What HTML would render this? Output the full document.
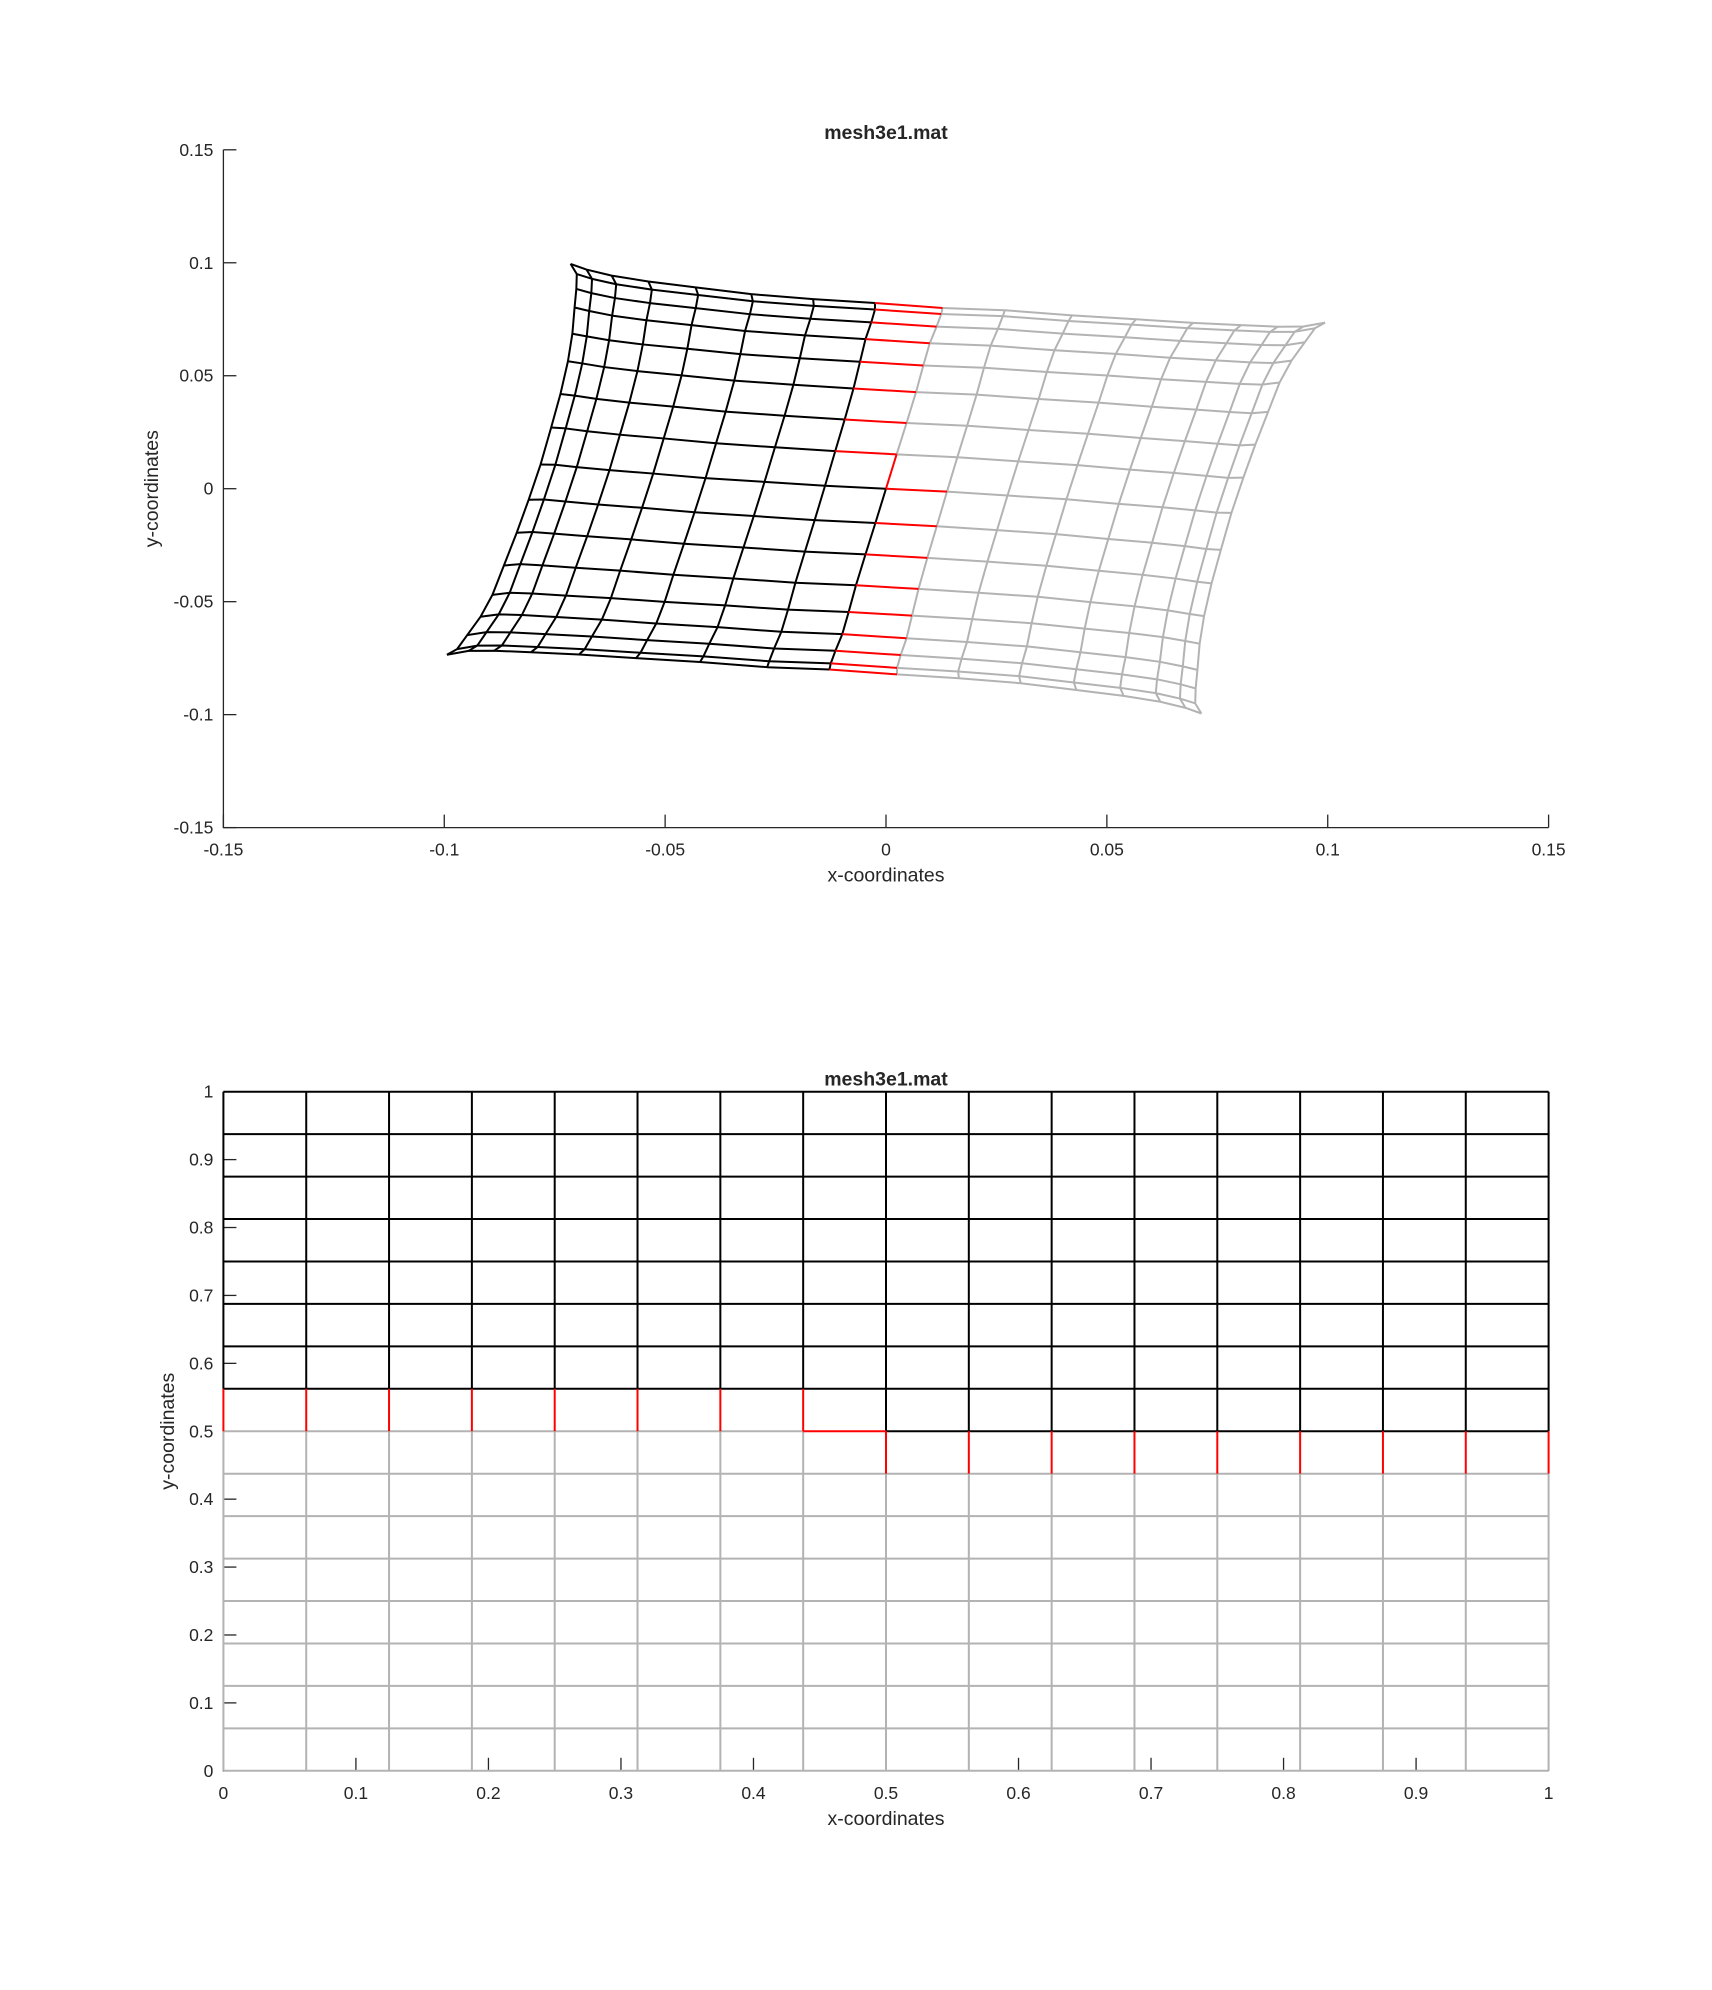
<!DOCTYPE html>
<html><head><meta charset="utf-8"><style>
html,body{margin:0;padding:0;background:#fff;}
svg{display:block;}
text{font-family:"Liberation Sans",Arial,sans-serif;fill:#262626;}
</style></head><body>
<svg id="fig" width="1712" height="1990" viewBox="0 0 1712 1990" xmlns="http://www.w3.org/2000/svg">
<rect x="0" y="0" width="1712" height="1990" fill="#fff"/>
<g id="p1"></g>
<g id="p2"></g>
</svg>
<script>
// ---- data ----
// boundary nodes of deformed mesh (data coords), index 0..16
const topX = [0.0994,0.0945,0.0887,0.0804,0.0695,0.0566,0.0421,0.0269,0.0128,-0.0025,-0.0165,-0.0305,-0.0431,-0.0538,-0.0621,-0.0678,-0.0714];
const topY = [0.0735,0.0718,0.0717,0.0724,0.0734,0.0750,0.0767,0.0790,0.0800,0.0822,0.0839,0.0861,0.0891,0.0917,0.0943,0.0970,0.0995];
const botX = [0.0714,0.0678,0.0621,0.0538,0.0431,0.0305,0.0165,0.0025,-0.0128,-0.0269,-0.0421,-0.0566,-0.0695,-0.0804,-0.0887,-0.0945,-0.0994];
const botY = [-0.0995,-0.0970,-0.0943,-0.0917,-0.0891,-0.0861,-0.0839,-0.0822,-0.0800,-0.0790,-0.0767,-0.0750,-0.0734,-0.0724,-0.0717,-0.0718,-0.0735];
const leftX = [-0.0714,-0.0700,-0.0701,-0.0705,-0.0710,-0.0720,-0.0737,-0.0758,-0.0782,-0.0809,-0.0836,-0.0865,-0.0891,-0.0918,-0.0948,-0.0971,-0.0994];
const leftY = [0.0995,0.0950,0.0884,0.0802,0.0686,0.0564,0.0419,0.0271,0.0107,-0.0049,-0.0195,-0.0340,-0.0470,-0.0567,-0.0648,-0.0710,-0.0735];
const rightX = [0.0994,0.0971,0.0948,0.0918,0.0891,0.0865,0.0836,0.0809,0.0782,0.0758,0.0737,0.0720,0.0710,0.0705,0.0701,0.0700,0.0714];
const rightY = [0.0735,0.0710,0.0648,0.0567,0.0470,0.0340,0.0195,0.0049,-0.0107,-0.0271,-0.0419,-0.0564,-0.0686,-0.0802,-0.0884,-0.0950,-0.0995];
// reference mesh node coordinates
const nodeS = [0,0.0625,0.125,0.1875,0.25,0.3125,0.375,0.4375,0.5,0.5625,0.625,0.6875,0.75,0.8125,0.875,0.9375,1];
const nodeT = [0,0.0625,0.125,0.1875,0.25,0.3125,0.375,0.4375,0.5,0.5625,0.625,0.6875,0.75,0.8125,0.875,0.9375,1];
// mesh topology: gray top index and black bottom index per column
const grayTop = [8,8,8,8,8,8,8,8,7,7,7,7,7,7,7,7,7];
const blackBot = [9,9,9,9,9,9,9,9,8,8,8,8,8,8,8,8,8];
// tick labels
const p1Ticks = [-0.15,-0.1,-0.05,0,0.05,0.1,0.15];
const p1TickLabels = ["-0.15","-0.1","-0.05","0","0.05","0.1","0.15"];
const p2Ticks = [0,0.1,0.2,0.3,0.4,0.5,0.6,0.7,0.8,0.9,1];
const p2TickLabels = ["0","0.1","0.2","0.3","0.4","0.5","0.6","0.7","0.8","0.9","1"];

const NS="http://www.w3.org/2000/svg";
function mk(parent,tag,attrs){const e=document.createElementNS(NS,tag);for(const k in attrs)e.setAttribute(k,attrs[k]);parent.appendChild(e);return e;}

const N=16;
function coons(i,j){
  const s=i/N,t=j/N;
  const f=(T,B,L,R)=>(1-t)*R[i]+t*L[i]+(1-s)*T[j]+s*B[j]
    -((1-s)*(1-t)*T[0]+(1-s)*t*T[N]+s*(1-t)*B[0]+s*t*B[N]);
  return [f(topX,botX,leftX,rightX), f(topY,botY,leftY,rightY)];
}

function drawPlot(g, box, xdom, ydom, ticks, labels, nodeFn, opts){
  const sx=v=>box.l+(v-xdom[0])/(xdom[1]-xdom[0])*(box.r-box.l);
  const sy=v=>box.b-(v-ydom[0])/(ydom[1]-ydom[0])*(box.b-box.t);
  const ax=mk(g,'path',{d:`M${box.l},${box.t}V${box.b}H${box.r}`,fill:'none',stroke:'#262626','stroke-width':1.3});
  
  
  ticks.forEach((v,k)=>{
    const xt=mk(g,'line',{x1:sx(v),x2:sx(v),y1:box.b,y2:box.b-13,stroke:'#262626','stroke-width':1.3});
    
    
    const yt=mk(g,'line',{x1:box.l,x2:box.l+13,y1:sy(v),y2:sy(v),stroke:'#262626','stroke-width':1.3});
    
    
    const xl=mk(g,'text',{x:sx(v),y:box.b+28,'text-anchor':'middle','font-size':17.5});
    xl.textContent=labels[k];
    
    
    const yl=mk(g,'text',{x:box.l-10,y:sy(v)+6,'text-anchor':'end','font-size':17.5});
    yl.textContent=labels[k];
    
    
  });
  const P=(i,j)=>{const p=nodeFn(i,j);return sx(p[0]).toFixed(2)+','+sy(p[1]).toFixed(2);};
  function poly(pts,color,name){
    const e=mk(g,'polyline',{points:pts.join(' '),fill:'none',stroke:color,'stroke-width':2,'stroke-linejoin':'round'});
    
    
  }
  const gray='#b3b3b3',black='#000',red='#ff0000';
  for(let i=0;i<=N;i++){const pts=[];for(let j=0;j<=grayTop[i];j++)pts.push(P(i,j));poly(pts,gray,'gray-mesh-line');}
  for(let j=0;j<=N;j++){let pts=[];
    for(let i=0;i<=N;i++){if(j<=grayTop[i])pts.push(P(i,j));else{if(pts.length>1)poly(pts,gray,'gray-mesh-line');pts=[];}}
    if(pts.length>1)poly(pts,gray,'gray-mesh-line');}
  for(let i=0;i<=N;i++){const pts=[];for(let j=blackBot[i];j<=N;j++)pts.push(P(i,j));poly(pts,black,'black-mesh-line');}
  for(let j=0;j<=N;j++){let pts=[];
    for(let i=0;i<=N;i++){if(j>=blackBot[i])pts.push(P(i,j));else{if(pts.length>1)poly(pts,black,'black-mesh-line');pts=[];}}
    if(pts.length>1)poly(pts,black,'black-mesh-line');}
  for(let i=0;i<=N;i++){const pts=[];for(let j=grayTop[i];j<=blackBot[i];j++)pts.push(P(i,j));poly(pts,red,'interface-link');}
  for(let i=0;i<N;i++){if(grayTop[i]!==grayTop[i+1]){poly([P(i,grayTop[i]),P(i+1,grayTop[i])],red,'interface-link');}}
  const tt=mk(g,'text',{x:(box.l+box.r)/2,y:box.t+opts.titleDy,'text-anchor':'middle','font-size':19.5,'font-weight':'bold'});
  tt.textContent='mesh3e1.mat';
  
  
  const xlab=mk(g,'text',{x:(box.l+box.r)/2,y:box.b+54,'text-anchor':'middle','font-size':19.5});
  xlab.textContent='x-coordinates';
  
  
  const cy=(box.t+box.b)/2;
  const ylab=mk(g,'text',{x:opts.ylabX,y:cy,'text-anchor':'middle','font-size':19.5,transform:`rotate(-90 ${opts.ylabX} ${cy})`});
  ylab.textContent='y-coordinates';
  
  
}

drawPlot(document.getElementById('p1'),{l:223.4,r:1548.6,t:149.8,b:827.6},[-0.15,0.15],[-0.15,0.15],
  p1Ticks,p1TickLabels,coons,{titleDy:-11,ylabX:158});
drawPlot(document.getElementById('p2'),{l:223.4,r:1548.6,t:1091.7,b:1770.8},[0,1],[0,1],
  p2Ticks,p2TickLabels,(i,j)=>[nodeS[i],nodeT[j]],{titleDy:-6,ylabX:174});
</script>
</body></html>
